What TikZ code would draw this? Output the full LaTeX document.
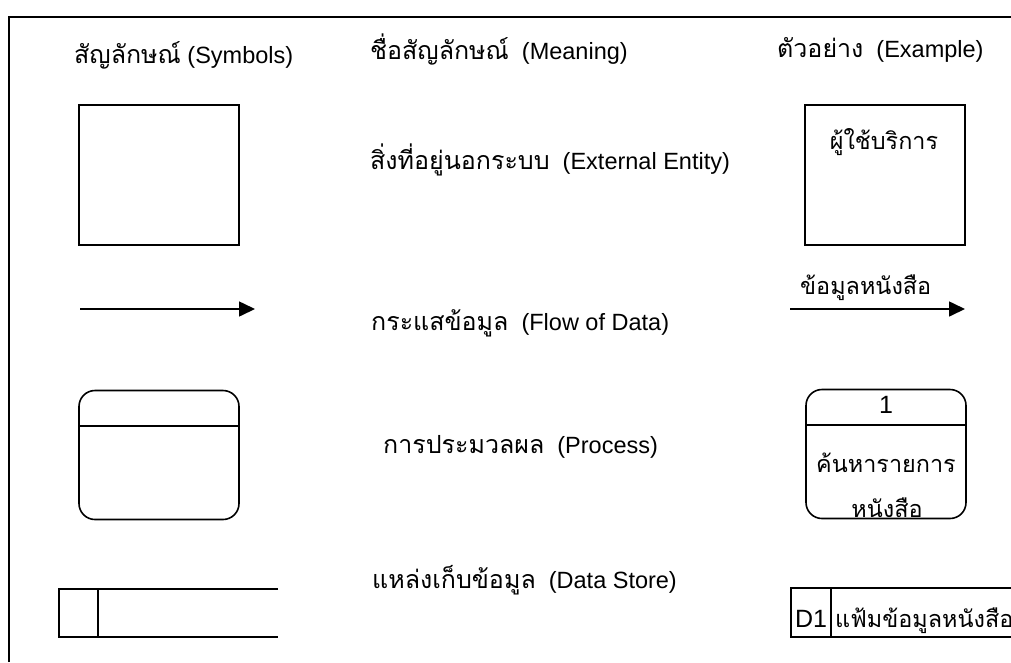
\documentclass[tikz,border=0pt]{standalone}
\usepackage{fontspec}
\setmainfont{Liberation Sans}
\newfontfamily\thaifont[Script=Thai, Scale=1.064]{Loma}
\usetikzlibrary{arrows.meta, positioning}

\begin{document}
\begin{tikzpicture}[x=1pt, y=-1pt,
    entity/.style={draw, line width=1.6pt, minimum width=160pt,
                   minimum height=140pt, inner sep=0pt},
    proc/.style={draw, line width=1.6pt, rounded corners=16pt,
                 minimum width=160pt, minimum height=129pt, inner sep=0pt},
    flow/.style={-{Triangle[length=16pt, width=15pt]}, line width=1.6pt},
    store/.style={line width=1.6pt},
    txt/.style={anchor=base west, inner sep=0pt},
    exlabel/.style={anchor=base, inner sep=0pt, font=\fontsize{22}{26}\selectfont},
    exnum/.style={anchor=base, inner sep=0pt, font=\fontsize{25}{30}\selectfont},
    every node/.style={font=\fontsize{23.5}{28}\selectfont}
  ]
  \useasboundingbox (0,0) rectangle (1011,662);

  % Frame
  \draw[line width=2pt] (9,662) -- (9,17) -- (1011,17);

  % Column heads
  \node[txt] (symhead)  at (74,63)  {{\thaifont สัญลักษณ์} (Symbols)};
  \node[txt] (meanhead) at (370,59) {{\thaifont ชื่อสัญลักษณ์}\ \ (Meaning)};
  \node[txt] (exhead)   at (777,57) {{\thaifont ตัวอย่าง}\ \ (Example)};

  % External entity
  \node[entity] (entsym) at (159,175) {};
  \node[txt] (entname) at (370,169) {{\thaifont สิ่งที่อยู่นอกระบบ}\ \ (External Entity)};
  \node[entity] (entex) at (885,175) {};
  \node[exlabel] (entlabel) at (884,149) {\thaifont ผู้ใช้บริการ};

  % Flow of data
  \coordinate (flowsym-a) at (80,309);
  \coordinate (flowsym-b) at (255,309);
  \draw[flow] (flowsym-a) -- (flowsym-b);
  \node[txt] (flowname) at (371,330) {{\thaifont กระแสข้อมูล}\ \ (Flow of Data)};
  \coordinate (flowex-a) at (790,309);
  \coordinate (flowex-b) at (965,309);
  \draw[flow] (flowex-a) -- (flowex-b);
  \node[exlabel, anchor=base west] (flowlabel) at (800,294) {\thaifont ข้อมูลหนังสือ};

  % Process
  \node[proc] (procsym) at (159,455) {};
  \draw[line width=1.6pt] (procsym.west |- 0,426) -- (procsym.east |- 0,426);
  \node[txt] (procname) at (383,453) {{\thaifont การประมวลผล}\ \ (Process)};
  \node[proc] (procex) at (886,454) {};
  \draw[line width=1.6pt] (procex.west |- 0,425) -- (procex.east |- 0,425);
  \node[exnum] (procnum) at (886,413) {1};
  \node[exlabel] (proclabel) at (886,472) {\thaifont ค้นหารายการ};
  \node[exlabel] (proclabelb) at (887,517) {\thaifont หนังสือ};

  % Data store
  \draw[store] (278,589) -- (59,589) -- (59,637) -- (278,637);
  \draw[store] (98,589) -- (98,637);
  \node[txt] (storename) at (372,588) {{\thaifont แหล่งเก็บข้อมูล}\ \ (Data Store)};
  \draw[store] (1030,588) -- (791,588) -- (791,637) -- (1030,637);
  \draw[store] (831,588) -- (831,637);
  \node[exnum] (storeid) at (811,627) {D1};
  \node[exlabel, anchor=base west] (storelabel) at (835,627) {\thaifont แฟ้มข้อมูลหนังสือ};
\end{tikzpicture}
\end{document}
